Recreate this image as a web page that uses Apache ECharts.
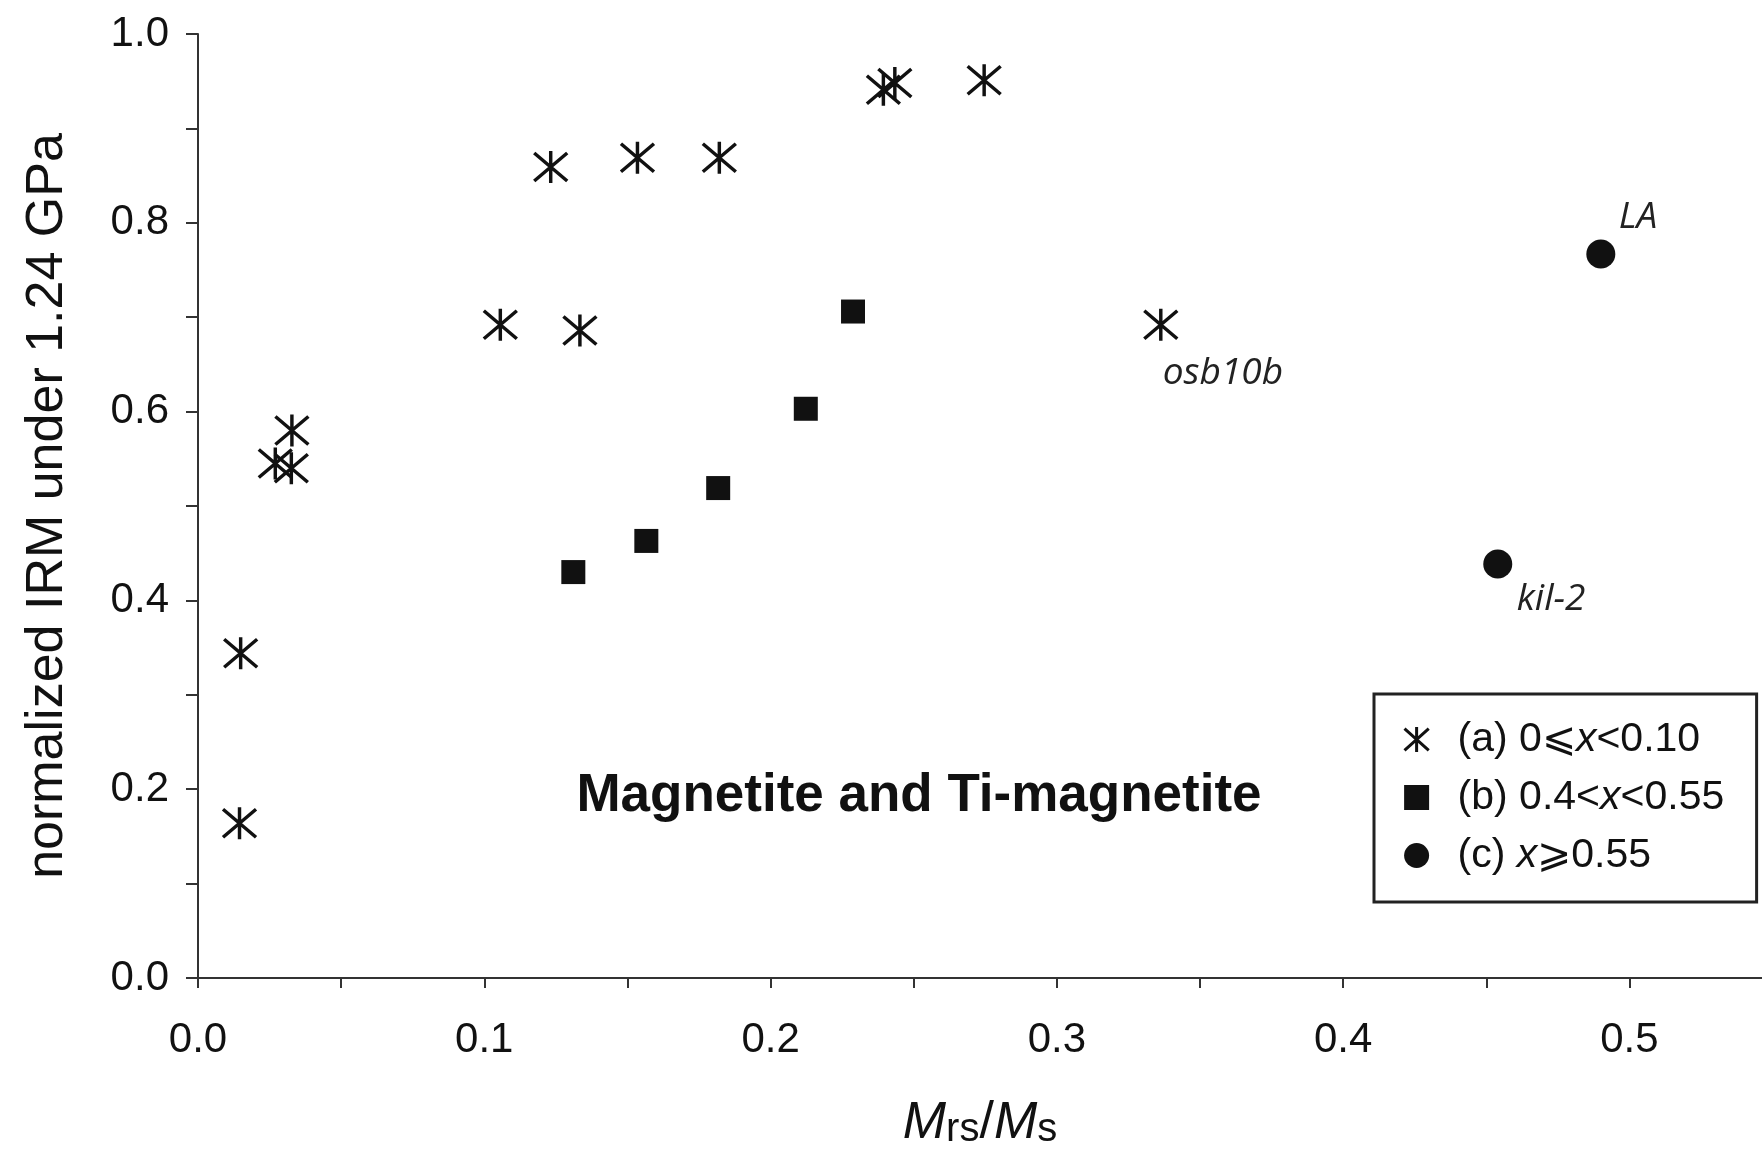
<!DOCTYPE html>
<html><head><meta charset="utf-8">
<script src="https://cdn.jsdelivr.net/npm/echarts@6/dist/echarts.min.js"></script>
<style>html,body{margin:0;padding:0;background:#fff}#c{width:1762px;height:1155px}</style>
</head><body><div id="c"></div>
<script>
// ---- data ----
const seriesNames = ['(a) 0⩽x<0.10', '(b) 0.4<x<0.55', '(c) x⩾0.55'];
const aX = [0.0149, 0.0145, 0.0270, 0.0328, 0.0326, 0.1056, 0.1334, 0.1232, 0.1535, 0.1821, 0.2394, 0.2434, 0.2746, 0.3363];
const aY = [0.344, 0.164, 0.545, 0.580, 0.540, 0.692, 0.686, 0.859, 0.869, 0.869, 0.941, 0.948, 0.951, 0.692];
const aLabels = ['', '', '', '', '', '', '', '', '', '', '', '', '', 'osb10b'];
const bX = [0.1311, 0.1566, 0.1817, 0.2123, 0.2288];
const bY = [0.430, 0.463, 0.519, 0.603, 0.706];
const cX = [0.490, 0.454];
const cY = [0.767, 0.4385];
const cLabels = ['LA', 'kil-2'];
const xTickValues = [0, 0.05, 0.1, 0.15, 0.2, 0.25, 0.3, 0.35, 0.4, 0.45, 0.5];
const xLabelValues = [0, 0.1, 0.2, 0.3, 0.4, 0.5];
const xTickLabels = ['0.0', '0.1', '0.2', '0.3', '0.4', '0.5'];
const yTickLabels = ['0.0', '0.2', '0.4', '0.6', '0.8', '1.0'];
const annotation = 'Magnetite and Ti-magnetite';

// ---- styles ----
const INK = '#111';
const SANS = '"Liberation Sans", Arial, Helvetica, sans-serif';
const labelOffsets = { 'osb10b': [2, 49], 'LA': [18, -36], 'kil-2': [19, 35] };
const asterisk = 'path://M16.5,0L16.5,32M1,2L32,30M1,30L32,2';
const square = 'path://M0,0L10,0L10,10L0,10Z';

function pointLabel(txt) {
  if (!txt) return undefined;
  return {
    show: true, formatter: txt, position: 'inside', align: 'left', verticalAlign: 'middle',
    offset: labelOffsets[txt], fontFamily: '"Open Sans", "Noto Sans", sans-serif',
    fontStyle: 'italic', fontSize: 37, color: '#222'
  };
}
function mk(xs, ys, labels) {
  return xs.map((x, i) => {
    const d = { value: [x, ys[i]] };
    const l = pointLabel(labels && labels[i]);
    if (l) d.label = l;
    return d;
  });
}

// legend box geometry
const LEG_FONT = 41, LEG_LEFT = 1374, LEG_RIGHT = 1757, ICON_W = 28, ICON_H = 25, PAD_L = 29, SPACER = 22;
const cvs = document.createElement('canvas').getContext('2d');
cvs.font = LEG_FONT + 'px ' + SANS;
const maxW = Math.max(...seriesNames.map(n => cvs.measureText(n).width));
const padRight = Math.max(4, LEG_RIGHT - (LEG_LEFT + PAD_L + ICON_W + 5 + SPACER + maxW));

const chart = echarts.init(document.getElementById('c'), null, { renderer: 'canvas' });
chart.setOption({
  animation: false,
  backgroundColor: '#fff',
  grid: { left: 198, top: 34, right: 0, bottom: 171, containLabel: false },
  xAxis: {
    type: 'value', min: 0, max: 0.5463,
    name: '{m|M}{s|rs}{n|/}{m|M}{s|s}', nameLocation: 'middle', nameGap: 116,
    nameTextStyle: {
      rich: {
        m: { fontFamily: SANS, fontStyle: 'italic', fontSize: 52, color: INK, lineHeight: 56, verticalAlign: 'bottom' },
        n: { fontFamily: SANS, fontSize: 52, color: INK, lineHeight: 56, verticalAlign: 'bottom' },
        s: { fontFamily: SANS, fontSize: 40, color: INK, lineHeight: 40, verticalAlign: 'bottom', padding: [12, 0, 0, 0] }
      }
    },
    splitLine: { show: false },
    axisLine: { onZero: false, lineStyle: { color: '#333', width: 2 } },
    axisTick: { length: 10, customValues: xTickValues, lineStyle: { color: '#333', width: 2 } },
    axisLabel: {
      margin: 41, fontFamily: SANS, fontSize: 42, color: INK, customValues: xLabelValues,
      formatter: v => { const i = xLabelValues.findIndex(t => Math.abs(t - v) < 1e-9); return i >= 0 ? xTickLabels[i] : ''; }
    }
  },
  yAxis: {
    type: 'value', min: 0, max: 1, interval: 0.1,
    name: 'normalized IRM under 1.24 GPa', nameLocation: 'middle', nameGap: 124, nameRotate: 90,
    nameTextStyle: { fontFamily: SANS, fontSize: 52, color: INK },
    splitLine: { show: false },
    axisLine: { show: true, lineStyle: { color: '#333', width: 2 } },
    axisTick: { show: true, length: 12, lineStyle: { color: '#333', width: 2 } },
    axisLabel: {
      margin: 29, fontFamily: SANS, fontSize: 42, color: INK,
      formatter: v => { const s = Number(v).toFixed(1); const even = Math.round(v * 10) % 2 === 0; return even && yTickLabels.includes(s) ? s : ''; }
    }
  },
  legend: {
    orient: 'vertical', left: LEG_LEFT, top: 694,
    padding: [25, padRight, 26, PAD_L], itemGap: 17, itemWidth: ICON_W, itemHeight: ICON_H,
    symbolKeepAspect: true,
    borderColor: '#222', borderWidth: 3, backgroundColor: '#fff',
    data: [
      { name: seriesNames[0], itemStyle: { borderWidth: 3, borderColor: INK, color: 'rgba(0,0,0,0)' } },
      { name: seriesNames[1] },
      { name: seriesNames[2] }
    ],
    formatter: name => '{sp| }' + name.replace('x', '{i|x}'),
    textStyle: {
      fontFamily: SANS, fontSize: LEG_FONT, color: INK,
      rich: {
        sp: { width: SPACER, fontSize: LEG_FONT, fontFamily: SANS },
        i: { fontFamily: SANS, fontSize: LEG_FONT, fontStyle: 'italic', color: INK }
      }
    }
  },
  graphic: [{
    type: 'text', x: 919, y: 796, z: 10,
    style: { text: annotation, fontFamily: SANS, fontWeight: 'bold', fontSize: 53, fill: INK, align: 'center', verticalAlign: 'middle' }
  }],
  series: [
    {
      name: seriesNames[0], type: 'scatter', symbol: asterisk, symbolSize: [33, 32],
      itemStyle: { color: 'rgba(0,0,0,0)', borderColor: INK, borderWidth: 3.4, opacity: 1 },
      emphasis: { disabled: true },
      data: mk(aX, aY, aLabels)
    },
    {
      name: seriesNames[1], type: 'scatter', symbol: square, symbolSize: 24,
      itemStyle: { color: INK, opacity: 1 }, emphasis: { disabled: true },
      data: mk(bX, bY)
    },
    {
      name: seriesNames[2], type: 'scatter', symbol: 'circle', symbolSize: 29,
      itemStyle: { color: INK, opacity: 1 }, emphasis: { disabled: true },
      data: mk(cX, cY, cLabels)
    }
  ]
});
</script></body></html>
